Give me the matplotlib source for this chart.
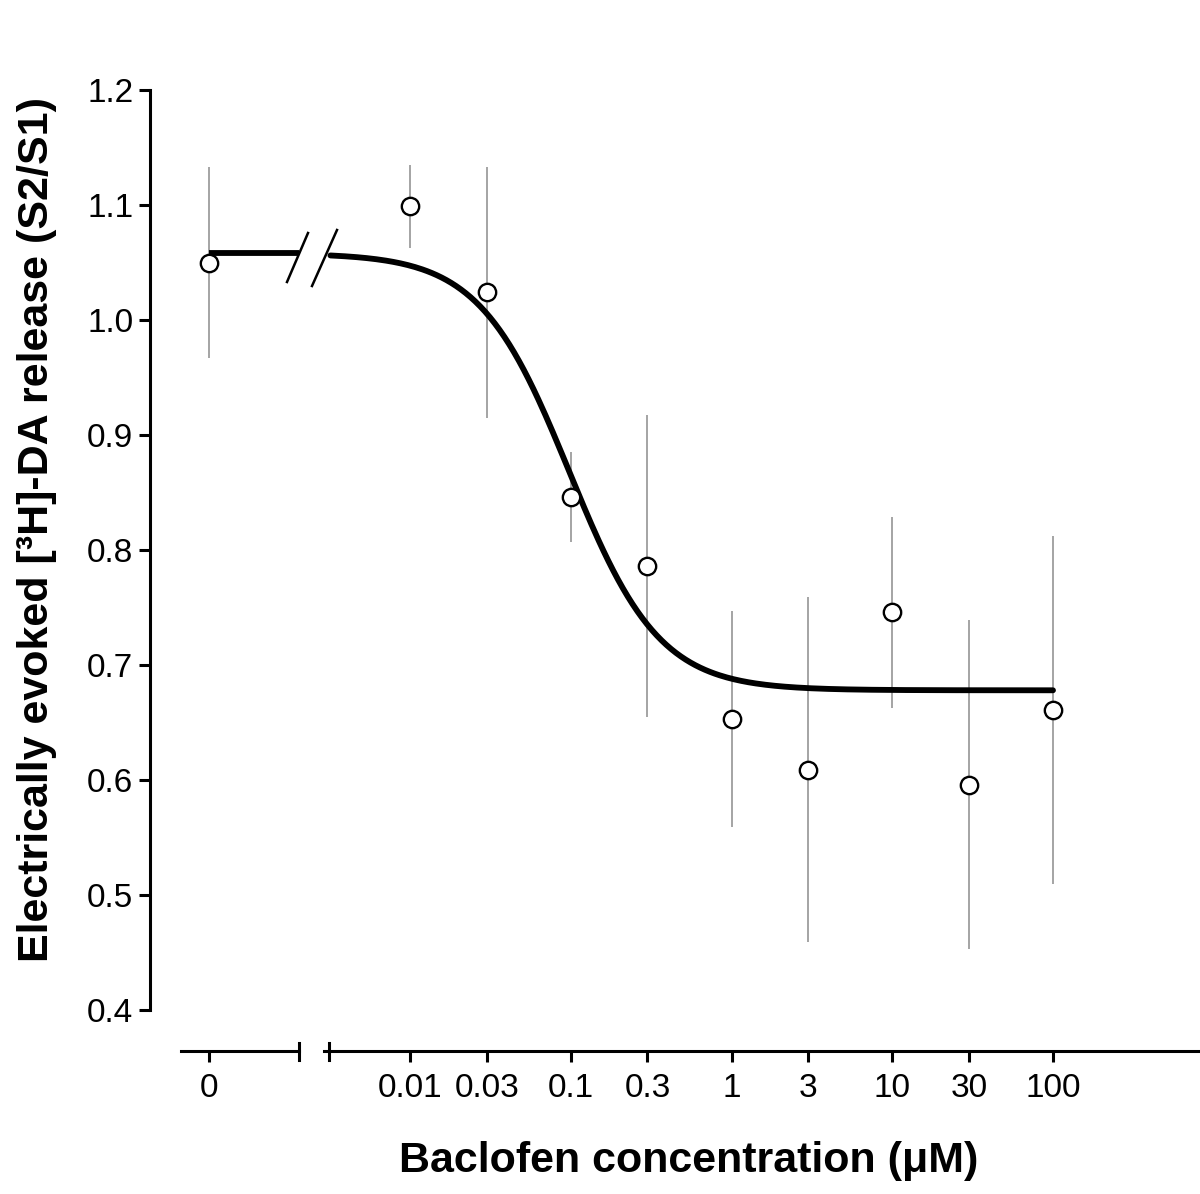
import numpy as np
import matplotlib
matplotlib.use("Agg")
import matplotlib.pyplot as plt
from matplotlib.lines import Line2D

plt.rcParams['font.family'] = ['Liberation Sans', 'DejaVu Sans']

# baclofen concentrations (uM), 0 is the control point drawn left of the break
conc = [0.01, 0.03, 0.1, 0.3, 1, 3, 10, 30, 100]
release = [1.099, 1.024, 0.846, 0.786, 0.653, 0.609, 0.746, 0.596, 0.661]
sem = [0.036, 0.109, 0.039, 0.131, 0.094, 0.150, 0.083, 0.143, 0.151]
control_release = 1.050
control_sem = 0.083
tick_labels = ["0.01", "0.03", "0.1", "0.3", "1", "3", "10", "30", "100"]

# fitted sigmoid parameters
fit_top = 1.058
fit_bottom = 0.678
fit_ic50 = 0.098
fit_hill = 1.55


def sigmoid(x):
    return fit_bottom + (fit_top - fit_bottom) / (1 + (x / fit_ic50) ** fit_hill)


W, H = 1200, 1194
fig = plt.figure(figsize=(W / 100, H / 100), dpi=100)

y_bot = (H - 1010) / H
y_h = (1010 - 90) / H
ax0 = fig.add_axes([150 / W, y_bot, (315 - 150) / W, y_h])
ax1 = fig.add_axes([315 / W, y_bot, (1200 - 315) / W, y_h])
for ax in (ax0, ax1):
    ax.set_ylim(0.4, 1.2)
    ax.patch.set_alpha(0)
    ax.spines['top'].set_visible(False)
    ax.spines['right'].set_visible(False)
    ax.spines['bottom'].set_position(('outward', 41 * 0.72))
    ax.spines['bottom'].set_linewidth(2.2)
    ax.tick_params(axis='x', direction='out', length=8, width=2.2,
                   labelsize=24, pad=8)

# left part (zero concentration)
ax0.set_xlim(-1, (315 - 209) / 59)
ax0.spines['left'].set_linewidth(2.2)
ax0.spines['left'].set_bounds(0.4, 1.2)
ax0.spines['bottom'].set_bounds(-28 / 59, 90 / 59)
ax0.set_yticks(np.arange(0.4, 1.21, 0.1))
ax0.set_yticklabels([f"{v:.1f}" for v in np.arange(0.4, 1.21, 0.1)])
ax0.tick_params(axis='y', direction='out', length=8, width=2.2,
                labelsize=24, pad=4)
ax0.set_xticks([0])
ax0.set_xticklabels(["0"])

ax0.errorbar([0], [control_release], yerr=[control_sem], fmt='none',
             ecolor='#8c8c8c', elinewidth=1.1, capsize=0, zorder=1)
ax0.plot([0, 90 / 59], [fit_top, fit_top], color='black', lw=4.2,
         solid_capstyle='butt', zorder=2)
ax0.plot([0], [control_release], 'o', ms=12.5, mfc='white', mec='black',
         mew=1.7, zorder=3, clip_on=False)

# right part (log scale)
ax1.set_xscale('log')
lo = 10 ** (-2 - 95 / 160.75)
hi = 10 ** (2 + 147 / 160.75)
ax1.set_xlim(lo, hi)
start = 10 ** (-2 - 86 / 160.75)
ax1.spines['left'].set_visible(False)
ax1.spines['bottom'].set_bounds(start, hi)
ax1.set_yticks([])
ax1.set_xticks(conc)
ax1.set_xticklabels(tick_labels)
ax1.xaxis.set_minor_locator(matplotlib.ticker.NullLocator())

ax1.errorbar(conc, release, yerr=sem, fmt='none', ecolor='#8c8c8c',
             elinewidth=1.1, capsize=0, zorder=1)
xs = np.logspace(np.log10(start) + 0.04, 2, 300)
ax1.plot(xs, sigmoid(xs), color='black', lw=4.2, solid_capstyle='round',
         zorder=2)
ax1.plot(conc, release, 'o', ms=12.5, mfc='white', mec='black', mew=1.7,
         zorder=3, clip_on=False)

# end bars on the broken x axis
for xp in (299, 329):
    fig.add_artist(Line2D([xp / W, xp / W], [(H - 1060) / H, (H - 1043) / H],
                          color='black', lw=2.2))

# break marks on the curve
for (xa, ya, xb, yb) in [(287, 282, 308, 233), (312, 286, 337, 230)]:
    fig.add_artist(Line2D([xa / W, xb / W], [(H - ya) / H, (H - yb) / H],
                          color='black', lw=1.8))

fig.text(689 / W, (H - 1172) / H, "Baclofen concentration (\u03bcM)",
         fontsize=31, fontweight='bold', ha='center', va='baseline')
fig.text(37 / W, (H - 530) / H,
         "Electrically evoked [\u00b3H]-DA release (S2/S1)",
         fontsize=31, fontweight='bold', ha='center', va='center',
         rotation=90)

fig.savefig("out.png", dpi=100)
